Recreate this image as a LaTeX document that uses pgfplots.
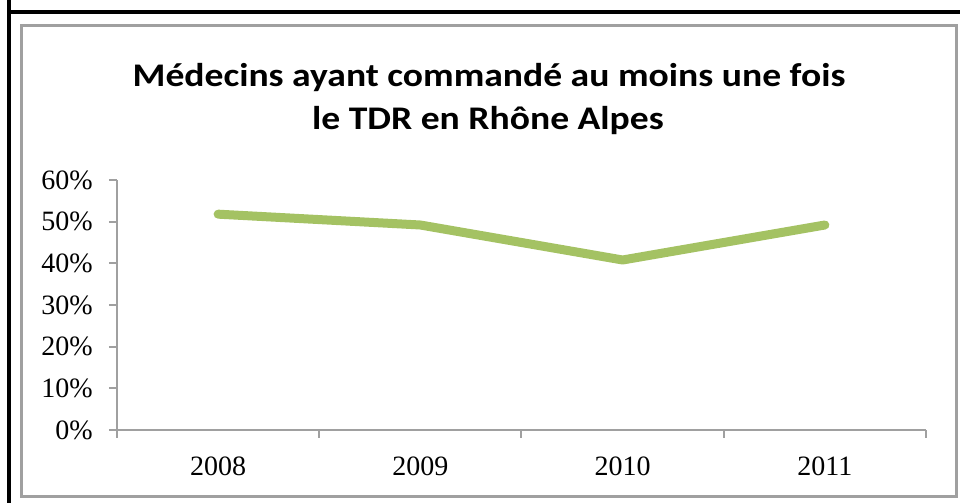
\documentclass[border=0pt]{standalone}
\usepackage{fontspec}
\setmainfont{Liberation Serif}
\newfontfamily\titlefont{Carlito}
\usepackage{graphicx}
\usepackage{pgfplots}
\pgfplotsset{compat=1.18}
\definecolor{linegreen}{HTML}{A4C263}
\definecolor{framegray}{HTML}{A0A0A0}
\begin{document}
\begin{tikzpicture}[x=0.5pt,y=0.5pt]
\path[use as bounding box] (0,0) rectangle (960,503);
\clip (0,0) rectangle (960,503);
\draw[line width=2pt,black] (9,1000) -- (9,490.5) -- (1100,490.5);
\draw[line width=2pt,black] (9,490.5) -- (9,-50);
\draw[line width=1.5pt,framegray] (21.5,477.5) rectangle (956.5,6);
\node[font=\titlefont\fontsize{16.5}{20}\selectfont\bfseries,anchor=base] at (489,416) {\scalebox{1.14}[1]{Médecins ayant commandé au moins une fois}};
\node[font=\titlefont\fontsize{16.5}{20}\selectfont\bfseries,anchor=base] at (488,373) {\scalebox{1.14}[1]{le TDR en Rhône Alpes}};
\begin{axis}[
  at={(58.5pt,36.5pt)}, anchor=south west,
  width=404.5pt, height=125pt, scale only axis,
  xmin=0, xmax=4, ymin=0, ymax=60,
  axis lines*=left,
  axis line style={framegray, line width=1pt},
  every tick/.style={framegray, line width=1pt},
  tick align=outside, major tick length=4pt,
  xtick={0,1,2,3,4},
  xticklabels={2008,2009,2010,2011},
  x tick label as interval,
  ytick={0,10,20,30,40,50,60},
  yticklabels={0\%,10\%,20\%,30\%,40\%,50\%,60\%},
  tick label style={font=\fontsize{14}{16}\selectfont, black},
  yticklabel style={inner sep=0pt, anchor=east, xshift=-8pt},
  xticklabel style={inner sep=0pt, anchor=north, yshift=-9pt},
  clip=false,
]
\addplot[linegreen, line width=4.5pt, line cap=round, line join=round] coordinates {
  (0.5,51.8) (1.5,49.2) (2.5,40.8) (3.5,49.2)
};
\end{axis}
\end{tikzpicture}
\end{document}
